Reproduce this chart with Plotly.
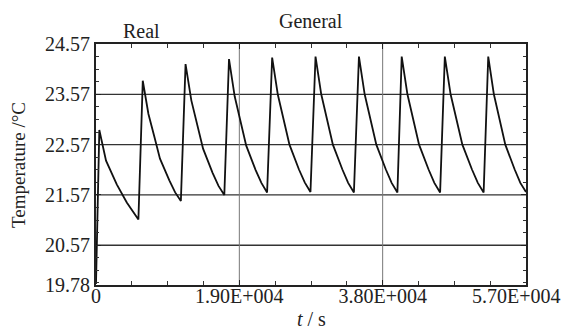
import plotly.graph_objects as go

# Data (time in s, temperature in degC)
time_s = [0, 440, 1330, 2750, 4080, 5620,
          6200, 6950, 7745, 8480, 9720, 10492, 11250,
          11870, 12636, 13443, 14193, 15453, 16239, 17010,
          17630, 18382, 19175, 19913, 21150, 21922, 22680,
          23350, 24107, 24904, 25646, 26891, 27668, 28430,
          29100, 29858, 30658, 31401, 32648, 33426, 34190,
          34855, 35615, 36416, 37160, 38410, 39190, 39955,
          40525, 41283, 42083, 42826, 44073, 44851, 45615,
          46240, 47007, 47814, 48566, 49826, 50613, 51385,
          51995, 52741, 53528, 54259, 55487, 56249, 57000]

temp_c = [19.80, 22.86, 22.25, 21.78, 21.42, 21.08,
          23.84, 23.18, 22.72, 22.29, 21.86, 21.62, 21.45,
          24.17, 23.45, 22.96, 22.49, 22.01, 21.75, 21.57,
          24.27, 23.53, 23.03, 22.55, 22.07, 21.81, 21.62,
          24.30, 23.56, 23.05, 22.57, 22.08, 21.82, 21.63,
          24.32, 23.57, 23.06, 22.57, 22.08, 21.81, 21.62,
          24.32, 23.57, 23.06, 22.57, 22.08, 21.81, 21.62,
          24.32, 23.57, 23.06, 22.57, 22.08, 21.81, 21.62,
          24.32, 23.57, 23.06, 22.57, 22.08, 21.81, 21.62,
          24.32, 23.57, 23.06, 22.57, 22.08, 21.81, 21.63]

y_ticks = [19.78, 20.57, 21.57, 22.57, 23.57, 24.57]
y_tick_text = ["19.78", "20.57", "21.57", "22.57", "23.57", "24.57"]
y_grid = [20.57, 21.57, 22.57, 23.57]
x_ticks = [0, 19000, 38000, 57000]
x_tick_text = ["0", "1.90E+004", "3.80E+004", "5.70E+004"]
x_grid = [19000, 38000]
x_range = [0, 57000]
y_range = [19.78, 24.57]

FONT = "Liberation Serif, Times New Roman, serif"
W, H = 565, 331
ML, MR, MT, MB = 96, 39, 44, 46
pw, ph = W - ML - MR, H - MT - MB


def px_x(x):
    return (x - ML) / pw


def px_y(y_from_top):
    return ((H - y_from_top) - MB) / ph


fig = go.Figure()
fig.add_trace(go.Scatter(x=time_s, y=temp_c, mode="lines",
                         line=dict(color="#111111", width=1.8),
                         showlegend=False, hoverinfo="skip"))

shapes = []
for g in y_grid:
    shapes.append(dict(type="line", xref="paper", x0=0, x1=1, yref="y", y0=g, y1=g,
                       line=dict(color="#333333", width=1.3), layer="below"))
for g in x_grid:
    shapes.append(dict(type="line", yref="paper", y0=0, y1=1, xref="x", x0=g, x1=g,
                       line=dict(color="#777777", width=1), layer="below"))

txt = dict(family=FONT, size=20, color="#222222")
anns = [
    dict(text="Real", x=px_x(141), y=px_y(31), xref="paper", yref="paper"),
    dict(text="General", x=px_x(311), y=px_y(21), xref="paper", yref="paper"),
    dict(text="Temperature /°C", x=px_x(18), y=px_y(165), xref="paper", yref="paper",
         textangle=-90, font=dict(family=FONT, size=19, color="#222222")),
    dict(text="<i>t</i> / s", x=px_x(311), y=px_y(319), xref="paper", yref="paper"),
    # last x tick label, nudged left so that it fits inside the picture
    dict(text=x_tick_text[-1], x=x_ticks[-1], xref="x", y=px_y(296), yref="paper",
         xshift=-10),
]
for a in anns:
    a.setdefault("font", txt)
    a.update(showarrow=False, xanchor="center", yanchor="middle")

fig.update_layout(
    width=W, height=H,
    margin=dict(l=ML, r=MR, t=MT, b=MB, autoexpand=False),
    paper_bgcolor="white", plot_bgcolor="white",
    font=txt,
    shapes=shapes,
    annotations=anns,
)

fig.update_xaxes(range=x_range, tickmode="array", tickvals=x_ticks,
                 ticktext=x_tick_text[:-1] + [""],
                 automargin=False,
                 showgrid=False, zeroline=False, showline=True, linecolor="#222222",
                 linewidth=2, mirror="ticks", ticks="inside", ticklen=5, tickcolor="#222222",
                 ticklabelstandoff=-8,
                 minor=dict(tickmode="linear", tick0=0, dtick=4750, ticks="inside",
                            ticklen=4, tickcolor="#333333", showgrid=False),
                 tickfont=txt)
fig.update_yaxes(range=y_range, tickmode="array", tickvals=y_ticks, ticktext=y_tick_text,
                 automargin=False,
                 showgrid=False, zeroline=False, showline=True, linecolor="#222222",
                 linewidth=2, mirror="ticks", ticks="inside", ticklen=5, tickcolor="#222222",
                 minor=dict(tickmode="linear", tick0=20.57, dtick=0.25, ticks="inside",
                            ticklen=3, tickcolor="#333333", showgrid=False),
                 tickfont=txt)

fig.write_html("out.html", config={"displayModeBar": False},
               post_script="document.body.style.margin='0px';")
